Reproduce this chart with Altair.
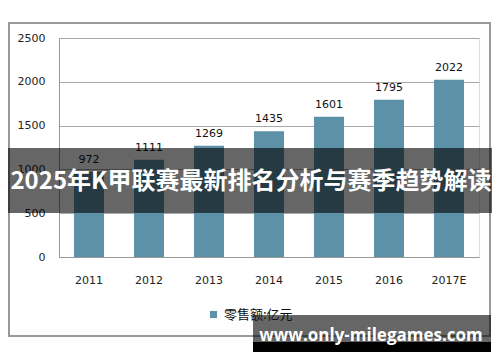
import altair as alt
import pandas as pd

years = ["2011", "2012", "2013", "2014", "2015", "2016", "2017E"]
values = [972, 1111, 1269, 1435, 1601, 1795, 2022]
series_name = "零售额:亿元"
y_ticks = [0, 500, 1000, 1500, 2000, 2500]
banner_text = "2025年K甲联赛最新排名分析与赛季趋势解读"
watermark_text = "www.only-milegames.com"

df = pd.DataFrame({"year": years, "value": values, "series": [series_name] * len(years)})
one = pd.DataFrame({"k": [0]})

bar_color = "#5d91a8"
font = "DejaVu Sans"
frame_color = "#999999"

base = alt.Chart(df)
deco = alt.Chart(one)

x_enc = alt.X(
    "year:N", sort=years,
    scale=alt.Scale(paddingInner=0.5, paddingOuter=0.25),
    axis=alt.Axis(title=None, ticks=False, labelAngle=0, labelPadding=17,
                  labelFont=font, labelFontSize=11, labelColor="#222",
                  domainColor="#999", domainWidth=1),
)
y_enc = alt.Y(
    "value:Q", scale=alt.Scale(domain=[0, 2500], nice=False),
    axis=alt.Axis(title=None, values=y_ticks, format="d", ticks=False, labelPadding=14,
                  labelFont=font, labelFontSize=11, labelColor="#222",
                  gridColor="#a8a8a8", gridWidth=1,
                  domainColor="#999", domainWidth=1),
)

bars = base.mark_bar(size=30).encode(
    x=x_enc, y=y_enc,
    color=alt.Color("series:N", scale=alt.Scale(range=[bar_color]),
                    legend=alt.Legend(title=None, orient="none", legendX=148, legendY=270,
                                      symbolType="square", symbolSize=50, symbolStrokeWidth=0,
                                      labelFont="Noto Sans CJK SC", labelFontSize=13,
                                      labelColor="#111")),
)

labels = base.mark_text(baseline="bottom", dy=-7, font=font, fontSize=11, color="#111").encode(
    x=alt.X("year:N", sort=years), y="value:Q", text="value:Q"
)

# outer frame (the left edge falls in the page margin)
frame = deco.mark_rect(fill="transparent", stroke=frame_color, strokeWidth=2).encode(
    x=alt.value(-50), x2=alt.value(431), y=alt.value(-15), y2=alt.value(298)
)

banner = deco.mark_rect(fill="black", fillOpacity=0.6).encode(
    x=alt.value(-51), x2=alt.value(434), y=alt.value(110), y2=alt.value(175)
)
banner_t = alt.Chart(pd.DataFrame({"t": [banner_text]})).mark_text(
    font="Noto Sans CJK SC", fontWeight="bold", fontSize=24, color="white",
    align="center", baseline="middle"
).encode(x=alt.value(192), y=alt.value(144), text="t:N")

wm_gray = deco.mark_rect(fill="black", fillOpacity=0.6).encode(
    x=alt.value(194), x2=alt.value(432), y=alt.value(277), y2=alt.value(304)
)
wm_black = deco.mark_rect(fill="black", fillOpacity=1).encode(
    x=alt.value(194), x2=alt.value(432), y=alt.value(304), y2=alt.value(315)
)
wm_t = alt.Chart(pd.DataFrame({"t": [watermark_text]})).mark_text(
    font="Open Sans", fontWeight="bold", fontSize=17, color="white",
    align="center", baseline="middle"
).encode(x=alt.value(312), y=alt.value(298), text="t:N")

chart = alt.layer(bars, labels, frame, banner, banner_t, wm_gray, wm_black, wm_t).properties(
    width=420, height=219,
    autosize=alt.AutoSizeParams(type="none"),
    padding={"left": 51, "top": 30, "right": 13, "bottom": 95},
).configure_view(stroke=None).configure(background="white")

chart.save("out.html", embed_options={"renderer": "svg", "actions": False})
